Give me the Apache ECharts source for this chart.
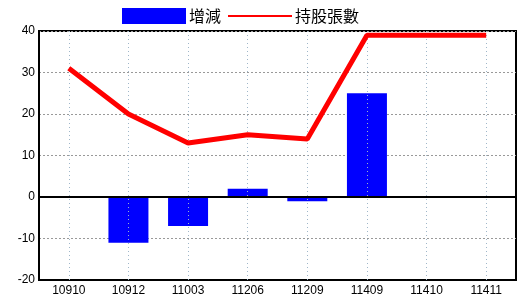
<!DOCTYPE html>
<html><head><meta charset="utf-8">
<script src="https://cdn.jsdelivr.net/npm/echarts@6/dist/echarts.min.js"></script>
<style>html,body{margin:0;padding:0;background:#fff}#c{width:520px;height:300px}</style>
</head><body><div id="c"></div>
<script>
const categories = ['10910','10912','11003','11206','11209','11409','11410','11411'];
const changeValues = [null, -11, -7, 2, -1, 25, null, null];
const holdingValues = [31, 20, 13, 15, 14, 39, 39, 39];
const yTicks = [-20, -10, 0, 10, 20, 30, 40];

const chart = echarts.init(document.getElementById('c'));
chart.setOption({
  animation: false,
  backgroundColor: '#fff',
  textStyle: {fontFamily: 'Liberation Sans, Arial, sans-serif'},
  legend: {
    top: 8, left: 122, itemGap: 6, padding: 0,
    itemWidth: 64, itemHeight: 16,
    textStyle: {fontFamily: 'Noto Sans CJK TC', fontSize: 16, color: '#000', padding: [0,0,0,-2]},
    data: [
      {name: '增減', icon: 'rect'},
      {name: '持股張數', itemStyle: {opacity: 0}, lineStyle: {width: 2}}
    ]
  },
  grid: {left: 39, right: 4, top: 31, bottom: 20, containLabel: false,
    show: true, borderColor: '#000', borderWidth: 2, backgroundColor: 'transparent'},
  xAxis: {
    type: 'category', data: categories, boundaryGap: true,
    axisLine: {show: true, onZero: false, lineStyle: {color: '#000', width: 2}},
    axisTick: {show: false},
    axisLabel: {color: '#000', fontSize: 12, margin: 5},
    splitLine: {show: false}
  },
  yAxis: {
    type: 'value', min: -20, max: 40, interval: 10,
    axisLine: {show: true, lineStyle: {color: '#000', width: 2}},
    axisTick: {show: false},
    axisLabel: {color: '#000', fontSize: 12, margin: 4, formatter: v => yTicks.includes(v) ? String(v) : ''},
    splitLine: {show: true, lineStyle: {color: '#999', type: [2, 2], width: 1}}
  },
  series: [
    {
      name: 'vgrid', type: 'line', data: holdingValues, z: 1,
      symbol: 'none', showSymbol: false, lineStyle: {opacity: 0}, silent: true,
      markLine: {
        silent: true, symbol: 'none', label: {show: false},
        lineStyle: {color: '#9fb6c9', type: [1, 3], width: 1, opacity: 1},
        data: categories.map((c, i) => [{xAxis: i, yAxis: -20}, {xAxis: i, yAxis: 40}])
      }
    },
    {
      name: '增減', type: 'bar', data: changeValues, barWidth: 40, z: 3,
      itemStyle: {color: '#0000ff'}
    },
    {
      name: 'zero', type: 'line', data: [], z: 4,
      markLine: {
        silent: true, symbol: 'none', label: {show: false},
        lineStyle: {color: '#000', type: 'solid', width: 2},
        data: [{yAxis: 0}]
      }
    },
    {
      name: '持股張數', type: 'line', data: holdingValues, z: 5,
      symbol: 'none', showSymbol: false,
      lineStyle: {color: '#ff0000', width: 5},
      itemStyle: {color: '#ff0000'}
    }
  ]
});
</script></body></html>
